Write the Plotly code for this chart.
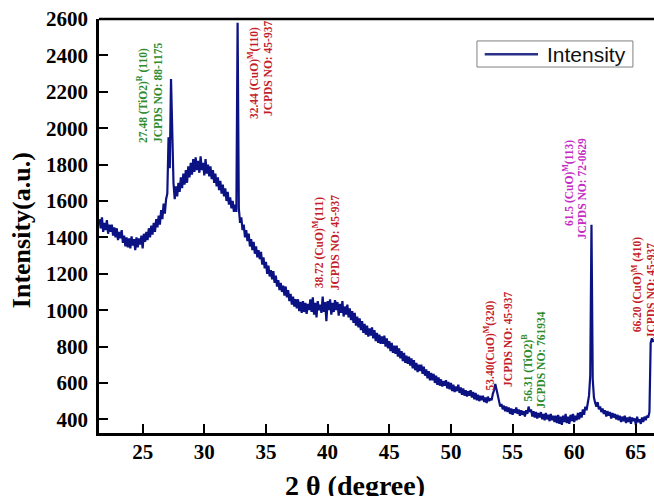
import numpy as np
import plotly.graph_objects as go

# 2-theta grid start / step (degrees)
two_theta_start = 21.5
two_theta_step = 0.1

# XRD intensity, one value per 0.1 degree (21.5 .. 66.5)
intensity = [
    1500, 1450, 1510, 1430, 1480, 1440, 1495, 1420, 1470, 1430,   # 21.5
    1470, 1410, 1455, 1400, 1450, 1385, 1430, 1395, 1440, 1370,   # 22.5
    1410, 1350, 1400, 1345, 1395, 1340, 1405, 1355, 1390, 1330,   # 23.5
    1400, 1345, 1395, 1360, 1410, 1340, 1420, 1375, 1430, 1385,   # 24.5
    1450, 1400, 1465, 1415, 1480, 1430, 1500, 1455, 1520, 1470,   # 25.5
    1550, 1500, 1585, 1530, 1610, 1640, 1950, 1780, 2270, 1960,   # 26.5
    1700, 1610, 1680, 1625, 1700, 1650, 1730, 1670, 1750, 1690,   # 27.5
    1770, 1700, 1790, 1730, 1810, 1745, 1830, 1760, 1840, 1770,   # 28.5
    1820, 1755, 1845, 1770, 1810, 1740, 1830, 1750, 1800, 1735,   # 29.5
    1790, 1720, 1770, 1700, 1750, 1680, 1730, 1660, 1710, 1640,   # 30.5
    1690, 1625, 1670, 1600, 1650, 1580, 1620, 1560, 1600, 1540,   # 31.5
    1580, 1540, 2580, 1560, 1480, 1510, 1440, 1470, 1400, 1440,   # 32.5
    1380, 1420, 1350, 1390, 1330, 1375, 1310, 1350, 1290, 1330,   # 33.5
    1280, 1320, 1250, 1290, 1230, 1265, 1200, 1245, 1185, 1220,   # 34.5
    1170, 1215, 1150, 1190, 1130, 1165, 1110, 1150, 1100, 1135,   # 35.5
    1080, 1130, 1070, 1110, 1050, 1090, 1030, 1075, 1020, 1060,   # 36.5
    1010, 1060, 995, 1045, 985, 1050, 990, 1040, 980, 1035,       # 37.5
    1000, 1060, 990, 1070, 975, 1040, 960, 1050, 1000, 1030,      # 38.5
    985, 1075, 990, 1045, 940, 1050, 1000, 1060, 975, 1040,       # 39.5
    990, 1055, 1000, 1045, 970, 1035, 985, 1050, 965, 1020,       # 40.5
    975, 1030, 960, 1010, 945, 995, 930, 985, 915, 965,           # 41.5
    905, 955, 890, 940, 875, 925, 865, 915, 855, 900,             # 42.5
    860, 905, 845, 890, 830, 875, 820, 865, 815, 855,             # 43.5
    815, 860, 800, 845, 790, 830, 775, 820, 765, 805,             # 44.5
    760, 805, 745, 790, 735, 775, 720, 765, 710, 750,             # 45.5
    705, 745, 695, 735, 680, 725, 670, 710, 660, 700,             # 46.5
    665, 700, 650, 690, 640, 675, 625, 665, 615, 655,             # 47.5
    615, 650, 600, 640, 590, 630, 585, 620, 580, 610,             # 48.5
    585, 615, 570, 605, 565, 600, 555, 590, 550, 580,             # 49.5
    555, 590, 545, 575, 535, 570, 530, 560, 525, 555,             # 50.5
    530, 560, 520, 550, 510, 545, 505, 535, 500, 530,             # 51.5
    505, 530, 495, 520, 490, 525, 500, 515, 505, 540,             # 52.5
    560, 595, 565, 520, 490, 470, 485, 455, 475, 445,             # 53.5
    470, 440, 465, 430, 460, 425, 455, 435, 465, 430,             # 54.5
    455, 420, 450, 425, 445, 415, 450, 430, 470, 440,             # 55.5
    455, 415, 445, 410, 440, 405, 435, 410, 440, 400,             # 56.5
    430, 395, 435, 400, 425, 390, 430, 395, 420, 385,             # 57.5
    420, 380, 425, 375, 415, 370, 420, 385, 430, 380,             # 58.5
    415, 375, 425, 390, 430, 385, 420, 395, 435, 400,             # 59.5
    440, 410, 455, 425, 470, 450, 490, 530, 640, 1470,            # 60.5
    620, 520, 490, 470, 495, 455, 470, 440, 460, 430,             # 61.5
    450, 415, 445, 420, 440, 405, 435, 410, 430, 400,             # 62.5
    425, 395, 420, 385, 415, 390, 420, 380, 410, 385,             # 63.5
    415, 375, 410, 390, 405, 370, 415, 385, 400, 375,             # 64.5
    410, 385, 415, 395, 420, 410, 440, 820, 845, 830,             # 65.5
    835,                                                          # 66.5
]
two_theta = np.round(two_theta_start + two_theta_step * np.arange(len(intensity)), 2)

x_ticks = [25, 30, 35, 40, 45, 50, 55, 60, 65]
y_ticks = [400, 600, 800, 1000, 1200, 1400, 1600, 1800, 2000, 2200, 2400, 2600]

X_RANGE = [21.46, 66.47]
Y_RANGE = [325, 2600]

# peak labels (positions in data units: 2-theta, intensity)
label_texts = [
    "27.48 (TiO2)<sup>R</sup> (110)", "JCPDS NO: 88-1175",
    "32.44 (CuO)<sup>M</sup>(110)", "JCPDS NO: 45-937",
    "38.72 (CuO)<sup>M</sup>(111)", "JCPDS NO: 45-937",
    "53.40(CuO)<sup>M</sup>(320)", "JCPDS NO: 45-937",
    "56.31 (TiO2)<sup>B</sup>", "JCPDS NO: 761934",
    "61.5 (CuO)<sup>M</sup>(113)", "JCPDS NO: 72-0629",
    "66.20 (CuO)<sup>M</sup> (410)", "JCPDS NO: 45-937",
]
label_x = [24.94, 26.24, 33.95, 35.16, 39.22, 40.60, 53.10, 54.68,
           56.18, 57.32, 59.49, 60.63, 65.09, 66.23]
label_y = [2182, 2198, 2303, 2330, 1373, 1368, 807, 840,
           686, 724, 1698, 1670, 1142, 1104]
GREEN, RED, MAGENTA = "#2e8b2e", "#c41e2a", "#c42cc4"
label_colors = [GREEN, GREEN, RED, RED, RED, RED, RED, RED,
                GREEN, GREEN, MAGENTA, MAGENTA, RED, RED]

LINE = "#0b1283"
SERIF = "Liberation Serif"

fig = go.Figure()
fig.add_trace(go.Scatter(x=two_theta, y=intensity, mode="lines",
                         line=dict(color=LINE, width=2.2),
                         name="Intensity", showlegend=False))

for t, lx, ly, c in zip(label_texts, label_x, label_y, label_colors):
    px = (lx - X_RANGE[0]) / (X_RANGE[1] - X_RANGE[0])
    py = (ly - Y_RANGE[0]) / (Y_RANGE[1] - Y_RANGE[0])
    fig.add_annotation(x=px, y=py, xref="paper", yref="paper", text="<b>" + t + "</b>",
                       textangle=-90, showarrow=False,
                       xanchor="center", yanchor="middle",
                       font=dict(family=SERIF, size=11.5, color=c))

# axis titles
fig.add_annotation(x=0.461, y=-0.128, xref="paper", yref="paper",
                   text="<b>2 θ (degree)</b>", showarrow=False,
                   xanchor="center", yanchor="middle",
                   font=dict(family=SERIF, size=28, color="black"))
fig.add_annotation(x=-0.1405, y=0.49, xref="paper", yref="paper",
                   text="<b>Intensity(a.u.)</b>", showarrow=False, textangle=-90,
                   xanchor="center", yanchor="middle",
                   font=dict(family=SERIF, size=26, color="black"))

# legend box
fig.add_shape(type="rect", xref="paper", yref="paper",
              x0=0.681, x1=0.962, y0=0.884, y1=0.947,
              line=dict(color="#808080", width=1), fillcolor="white")
fig.add_shape(type="line", xref="paper", yref="paper",
              x0=0.695, x1=0.791, y0=0.915, y1=0.915,
              line=dict(color="#2b3088", width=2.5))
fig.add_annotation(x=0.804, y=0.915, xref="paper", yref="paper",
                   text="Intensity", showarrow=False,
                   xanchor="left", yanchor="middle",
                   font=dict(family="Liberation Sans", size=21, color="#111111"))

# top frame line
fig.add_shape(type="line", xref="paper", yref="paper", x0=0, x1=1, y0=1, y1=1,
              line=dict(color="black", width=2.5))

fig.update_xaxes(range=X_RANGE, tickvals=x_ticks,
                 ticks="inside", ticklen=9, tickwidth=2, tickcolor="black",
                 showline=True, linecolor="black", linewidth=2.5,
                 showgrid=False, zeroline=False, ticklabelstandoff=-2,
                 tickfont=dict(family=SERIF, size=21, color="black", weight="bold"))
fig.update_yaxes(range=Y_RANGE, tickvals=y_ticks,
                 ticks="inside", ticklen=9, tickwidth=2, tickcolor="black",
                 showline=True, linecolor="black", linewidth=2.5,
                 showgrid=False, zeroline=False, ticklabelstandoff=4,
                 tickfont=dict(family=SERIF, size=21, color="black", weight="bold"))

fig.update_layout(width=654, height=496,
                  margin=dict(l=99, r=0, t=19, b=63),
                  plot_bgcolor="white", paper_bgcolor="white",
                  showlegend=False)

fig.write_html("out.html", config={"displayModeBar": False},
               post_script="document.body.style.margin='0px';")
